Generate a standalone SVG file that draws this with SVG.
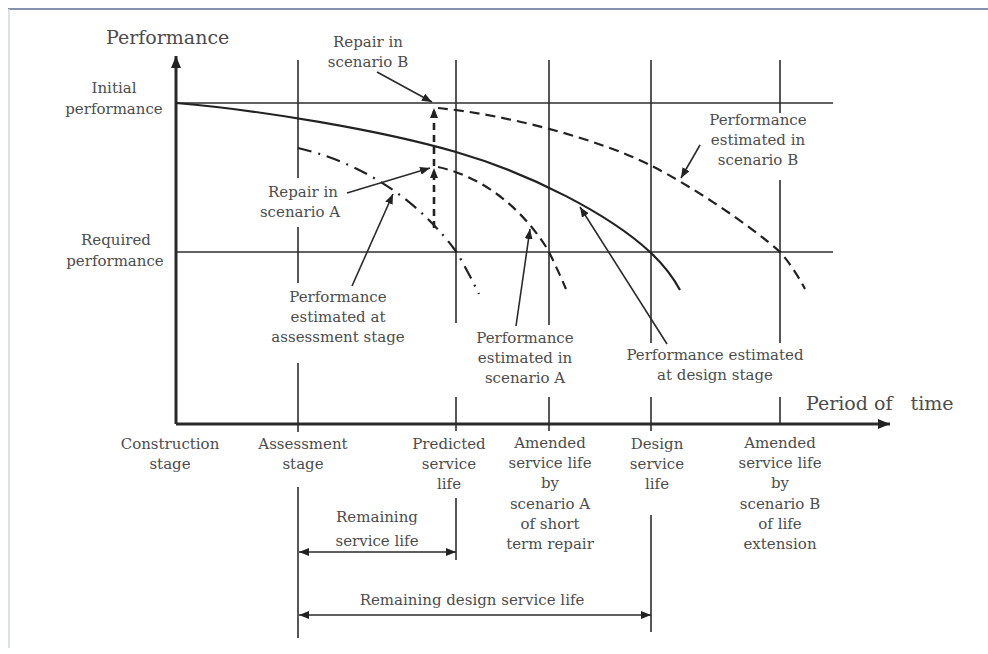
<svg xmlns="http://www.w3.org/2000/svg" width="988" height="654" viewBox="0 0 988 654">
<style>
text{font-family:"DejaVu Serif","Liberation Serif",serif;font-size:15px;fill:#4c4c4c;text-anchor:middle}
.big{font-size:19px;text-anchor:start}
.ln{stroke:#2e2e2e;stroke-width:1.6;fill:none}
.ax{stroke:#2a2a2a;stroke-width:3;fill:none}
.cv{stroke:#222;stroke-width:2.2;fill:none}
.dsh{stroke:#222;stroke-width:2.2;fill:none;stroke-dasharray:10 6}
.dd{stroke:#222;stroke-width:2.2;fill:none;stroke-dasharray:14 7 2 7}
.vd{stroke:#222;stroke-width:2.6;fill:none;stroke-dasharray:7 5}
.ar{stroke:#2a2a2a;stroke-width:1.6;fill:none}
</style>
<defs>
<marker id="ah" viewBox="0 0 10 8" refX="10" refY="4" markerWidth="10" markerHeight="8" markerUnits="userSpaceOnUse" orient="auto-start-reverse">
<path d="M0,0 L10,4 L0,8 z" fill="#222"/>
</marker>
<marker id="axh" viewBox="0 0 12 10" refX="12" refY="5" markerWidth="12" markerHeight="10" markerUnits="userSpaceOnUse" orient="auto">
<path d="M0,0 L12,5 L0,10 z" fill="#222"/>
</marker>
</defs>
<rect x="0" y="0" width="988" height="654" fill="#fff"/>
<g id="frame">
<line x1="8" y1="9" x2="988" y2="9" stroke="#8393ad" stroke-width="2"/>
<line x1="9" y1="9" x2="9" y2="648" stroke="#d2d8e2" stroke-width="1.5"/>
</g>
<g id="grid">
<line class="ln" x1="176" y1="103" x2="833" y2="103"/>
<line class="ln" x1="176" y1="252" x2="833" y2="252"/>
<path class="ln" d="M298,60 V178 M298,227 V283 M298,363 V432 M298,487 V638"/>
<path class="ln" d="M456,60 V323 M456,397 V431 M456,498 V560"/>
<path class="ln" d="M549,60 V325 M549,397 V431"/>
<path class="ln" d="M651,60 V343 M651,397 V431 M651,515 V632"/>
<path class="ln" d="M780,60 V113 M780,180 V343 M780,397 V424"/>
</g>
<g id="axes">
<line class="ax" x1="176" y1="424" x2="176" y2="56" marker-end="url(#axh)"/>
<line class="ax" x1="176" y1="424" x2="890" y2="424" marker-end="url(#axh)"/>
</g>
<g id="curves">
<path id="design-curve" class="cv" d="M176,103 C260,110 380,130 456,152 C532,174 610,215 650,252 C664,265 674,279 680,290"/>
<path id="scenarioB-curve" class="dsh" d="M438,108 C510,115 600,140 650,165 C690,185 750,225 780,252 C790,263 798,276 805,289"/>
<path id="scenarioA-curve" class="dsh" d="M438,167 C480,176 520,205 548,250 C554,262 560,275 566,289"/>
<path id="assessment-curve" class="dd" d="M298,148 C350,160 410,190 455,250 C463,262 471,278 479,294"/>
</g>
<g id="connectors">
<line class="vd" x1="434" y1="228" x2="434" y2="168" marker-end="url(#ah)"/>
<line class="vd" x1="434" y1="166" x2="434" y2="108" marker-end="url(#ah)"/>
<line class="ar" x1="377" y1="72" x2="432" y2="102" marker-end="url(#ah)"/>
<line class="ar" x1="347" y1="193" x2="430" y2="168" marker-end="url(#ah)"/>
<line class="ar" x1="352" y1="286" x2="393" y2="194" marker-end="url(#ah)"/>
<line class="ar" x1="516" y1="326" x2="530" y2="229" marker-end="url(#ah)"/>
<line class="ar" x1="667" y1="344" x2="580" y2="207" marker-end="url(#ah)"/>
<line class="ar" x1="700" y1="145" x2="681" y2="178" marker-end="url(#ah)"/>
<line class="ar" x1="299" y1="552" x2="456" y2="552" marker-start="url(#ah)" marker-end="url(#ah)"/>
<line class="ar" x1="299" y1="615" x2="651" y2="615" marker-start="url(#ah)" marker-end="url(#ah)"/>
</g>
<g id="axis-labels">
<text class="big" x="106" y="44">Performance</text>
<text x="806" y="410" class="big" xml:space="preserve">Period of   time</text>
</g>
<g id="label-initial"><text x="114" y="93">Initial</text><text x="114" y="114">performance</text></g>
<g id="label-required"><text x="116" y="245">Required</text><text x="115" y="266">performance</text></g>
<g id="label-repairB"><text x="368" y="47">Repair in</text><text x="368" y="67">scenario B</text></g>
<g id="label-repairA"><text x="303" y="197">Repair in</text><text x="300" y="217">scenario A</text></g>
<g id="label-est-assess"><text x="338" y="302">Performance</text><text x="338" y="322">estimated at</text><text x="338" y="342">assessment stage</text></g>
<g id="label-est-A"><text x="525" y="343">Performance</text><text x="525" y="363">estimated in</text><text x="525" y="383">scenario A</text></g>
<g id="label-est-design"><text x="715" y="360">Performance estimated</text><text x="715" y="380">at design stage</text></g>
<g id="label-est-B"><text x="758" y="125">Performance</text><text x="758" y="145">estimated in</text><text x="758" y="165">scenario B</text></g>
<g id="label-construction"><text x="170" y="449">Construction</text><text x="170" y="469">stage</text></g>
<g id="label-assessment"><text x="303" y="449">Assessment</text><text x="303" y="469">stage</text></g>
<g id="label-predicted"><text x="449" y="449">Predicted</text><text x="449" y="469">service</text><text x="449" y="489">life</text></g>
<g id="label-amendedA"><text x="550" y="448">Amended</text><text x="550" y="468">service life</text><text x="550" y="488">by</text><text x="550" y="509">scenario A</text><text x="550" y="529">of short</text><text x="550" y="549">term repair</text></g>
<g id="label-design"><text x="657" y="449">Design</text><text x="657" y="469">service</text><text x="657" y="489">life</text></g>
<g id="label-amendedB"><text x="780" y="448">Amended</text><text x="780" y="468">service life</text><text x="780" y="488">by</text><text x="780" y="509">scenario B</text><text x="780" y="529">of life</text><text x="780" y="549">extension</text></g>
<g id="label-remaining"><text x="377" y="522">Remaining</text><text x="377" y="546">service life</text></g>
<g id="label-remaining-design"><text x="472" y="605">Remaining design service life</text></g>
</svg>
